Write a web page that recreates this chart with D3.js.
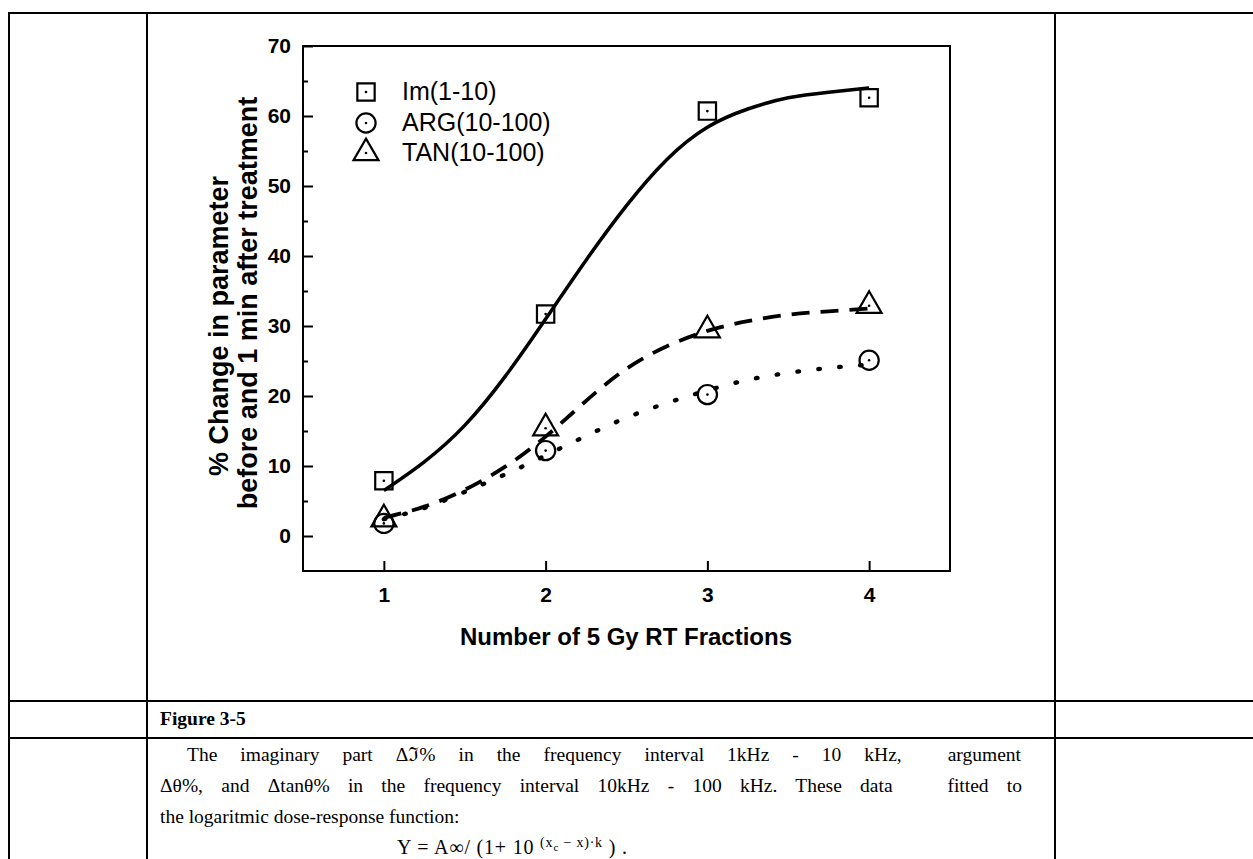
<!DOCTYPE html>
<html>
<head>
<meta charset="utf-8">
<title>Figure 3-5</title>
<script type="text/javascript" src="https://cdn.jsdelivr.net/npm/d3@7"></script>
<style>
  body { margin: 0; background: #fff; }
  svg { display: block; }
</style>
</head>
<body>
<script type="text/javascript">
// measured points
var xVals = [1, 2, 3, 4]
var imVals = [7.9, 31.7, 60.7, 62.6]
var argVals = [1.8, 12.2, 20.2, 25.1]
var tanVals = [2.4, 15.4, 29.4, 32.9]

// fitted curves, every 0.25
var fitX = [1, 1.25, 1.5, 1.75, 2, 2.25, 2.5, 2.75, 3, 3.25, 3.5, 3.75, 4]
var imFit = [6.5, 10.6, 15.8, 22.8, 31.0, 39.4, 47.2, 53.8, 58.4, 61.0, 62.6, 63.4, 64.0]
var argFit = [2.4, 4.0, 6.3, 8.8, 11.5, 14.3, 16.9, 19.0, 20.8, 22.3, 23.3, 24.0, 24.5]
var tanFit = [2.6, 4.2, 6.6, 9.9, 14.2, 19.3, 23.9, 27.1, 29.3, 30.7, 31.6, 32.1, 32.5]

var xTicks = [1, 2, 3, 4]
var yTicks = [0, 10, 20, 30, 40, 50, 60, 70]
var yMinor = [5, 15, 25, 35, 45, 55, 65]
var legendNames = ["Im(1-10)", "ARG(10-100)", "TAN(10-100)"]

var w = 1253
var h = 859
var svg = d3.select("body").append("svg").attr("width", w).attr("height", h)
svg.append("rect").attr("width", w).attr("height", h).attr("fill", "#fff")

// the table around the figure
var tbl = svg.append("g").attr("stroke", "#000").attr("stroke-width", 2)
tbl.append("line").attr("x1", 8).attr("x2", w).attr("y1", 13).attr("y2", 13)
tbl.append("line").attr("x1", 8).attr("x2", w).attr("y1", 701).attr("y2", 701)
tbl.append("line").attr("x1", 8).attr("x2", w).attr("y1", 738).attr("y2", 738)
tbl.append("line").attr("x1", 9).attr("x2", 9).attr("y1", 12).attr("y2", h)
tbl.append("line").attr("x1", 147).attr("x2", 147).attr("y1", 12).attr("y2", h)
tbl.append("line").attr("x1", 1055).attr("x2", 1055).attr("y1", 12).attr("y2", h)

// scales
var xScale = d3.scaleLinear().domain([0.5, 4.5]).range([303, 950])
var yScale = d3.scaleLinear().domain([-5, 70]).range([571, 46])

var font = "'Liberation Sans', Arial, sans-serif"

// axes, ticks pointing inward
svg.append("g").attr("transform", "translate(303,0)")
    .call(d3.axisLeft(yScale).tickValues(yTicks).tickSize(-10).tickPadding(12))
svg.append("g").attr("transform", "translate(303,0)")
    .call(d3.axisLeft(yScale).tickValues(yMinor).tickSize(-5).tickFormat(""))
svg.append("g").attr("transform", "translate(0,571)")
    .call(d3.axisBottom(xScale).tickValues(xTicks).tickFormat(d3.format("d")).tickSize(-10).tickPadding(16))

svg.selectAll(".domain").remove()
svg.selectAll(".tick line").attr("stroke", "#000").attr("stroke-width", 2)
svg.selectAll(".tick text").attr("font-family", font).attr("font-weight", "bold")
    .attr("font-size", 21).attr("fill", "#000")

// frame
svg.append("rect")
    .attr("x", xScale(0.5)).attr("y", yScale(70))
    .attr("width", xScale(4.5) - xScale(0.5)).attr("height", yScale(-5) - yScale(70))
    .attr("fill", "none").attr("stroke", "#000").attr("stroke-width", 2)

// axis titles
svg.append("text").attr("x", 626).attr("y", 645).attr("text-anchor", "middle")
    .attr("font-family", font).attr("font-weight", "bold").attr("font-size", 24)
    .text("Number of 5 Gy RT Fractions")
svg.append("text").attr("transform", "translate(228,326) rotate(-90)").attr("text-anchor", "middle")
    .attr("font-family", font).attr("font-weight", "bold").attr("font-size", 27)
    .text("% Change in parameter")
svg.append("text").attr("transform", "translate(257,303) rotate(-90)").attr("text-anchor", "middle")
    .attr("font-family", font).attr("font-weight", "bold").attr("font-size", 27)
    .text("before and 1 min after treatment")

// fitted lines
var line = d3.line()
    .x(function(d) { return xScale(d[0]) })
    .y(function(d) { return yScale(d[1]) })
    .curve(d3.curveNatural)

svg.append("path").datum(d3.zip(fitX, imFit)).attr("d", line)
    .attr("fill", "none").attr("stroke", "#000").attr("stroke-width", 3.5)
svg.append("path").datum(d3.zip(fitX, tanFit)).attr("d", line)
    .attr("fill", "none").attr("stroke", "#000").attr("stroke-width", 3.8)
    .attr("stroke-dasharray", "18,11")
svg.append("path").datum(d3.zip(fitX, argFit)).attr("d", line)
    .attr("fill", "none").attr("stroke", "#000").attr("stroke-width", 4.4)
    .attr("stroke-linecap", "round").attr("stroke-dasharray", "1.5,19.5")

// markers
var symSquare = d3.symbol().type(d3.symbolSquare).size(300)
var symCircle = d3.symbol().type(d3.symbolCircle).size(290)
var symTri = d3.symbol().type(d3.symbolTriangle).size(270)

function drawMarks(xs, ys, sym) {
    var g = svg.append("g")
    g.selectAll("path").data(d3.zip(xs, ys)).enter().append("path")
        .attr("transform", function(d) { return "translate(" + xScale(d[0]) + "," + yScale(d[1]) + ")" })
        .attr("d", sym)
        .attr("fill", "none").attr("stroke", "#000").attr("stroke-width", 2.2)
    g.selectAll("circle").data(d3.zip(xs, ys)).enter().append("circle")
        .attr("cx", function(d) { return xScale(d[0]) })
        .attr("cy", function(d) { return yScale(d[1]) })
        .attr("r", 1.3).attr("fill", "#000")
}
drawMarks(xVals, argVals, symCircle)
drawMarks(xVals, tanVals, symTri)
drawMarks(xVals, imVals, symSquare)

// legend
var legSyms = [symSquare, symCircle, symTri]
var legBase = [100, 131, 161]
legendNames.forEach(function(name, i) {
    var cy = legBase[i] - 8
    svg.append("path").attr("transform", "translate(366," + cy + ")").attr("d", legSyms[i])
        .attr("fill", "none").attr("stroke", "#000").attr("stroke-width", 2.2)
    svg.append("circle").attr("cx", 366).attr("cy", cy).attr("r", 1.3).attr("fill", "#000")
    svg.append("text").attr("x", 402).attr("y", legBase[i])
        .attr("font-family", font).attr("font-size", 25).text(name)
})

// caption text in the table
var serif = "'Liberation Serif', 'Times New Roman', serif"
svg.append("text").attr("x", 160).attr("y", 725).attr("font-family", serif)
    .attr("font-weight", "bold").attr("font-size", 19.5).text("Figure 3-5")

// justified lines end at the column edge, the last line is left as is
var para = [
    { x: 187, y: 761, right: 1021, t: "The imaginary part \u0394\u2111% in the frequency interval 1kHz - 10 kHz,  argument" },
    { x: 160, y: 792, right: 1022, t: "\u0394\u03b8%, and \u0394tan\u03b8% in the frequency interval 10kHz - 100 kHz. These data   fitted to" },
    { x: 160, y: 823, right: null, t: "the logaritmic dose-response function:" }
]
para.forEach(function(p) {
    var t = svg.append("text").attr("x", p.x).attr("y", p.y).attr("font-family", serif)
        .attr("font-size", 19.5).style("white-space", "pre").text(p.t)
    if (p.right) {
        var natural = t.node().getComputedTextLength()
        var gaps = p.t.split(" ").length - 1
        t.style("word-spacing", ((p.right - p.x - natural) / gaps) + "px")
    }
})

var eq = svg.append("text").attr("x", 397).attr("y", 854).attr("font-family", serif)
    .attr("font-size", 20).style("white-space", "pre")
eq.append("tspan").text("Y = A\u221e/ (1+ 10 ")
eq.append("tspan").attr("dy", -7).attr("font-size", 14).text("(x")
eq.append("tspan").attr("dy", 4).attr("font-size", 11).text("c")
eq.append("tspan").attr("dy", -4).attr("font-size", 14).text(" \u2212 x)\u00b7k")
eq.append("tspan").attr("dy", 7).text(" ) .")
var eqLen = eq.node().getComputedTextLength()
eq.style("letter-spacing", ((627 - 397 - eqLen) / 28) + "px")
</script>
</body>
</html>
